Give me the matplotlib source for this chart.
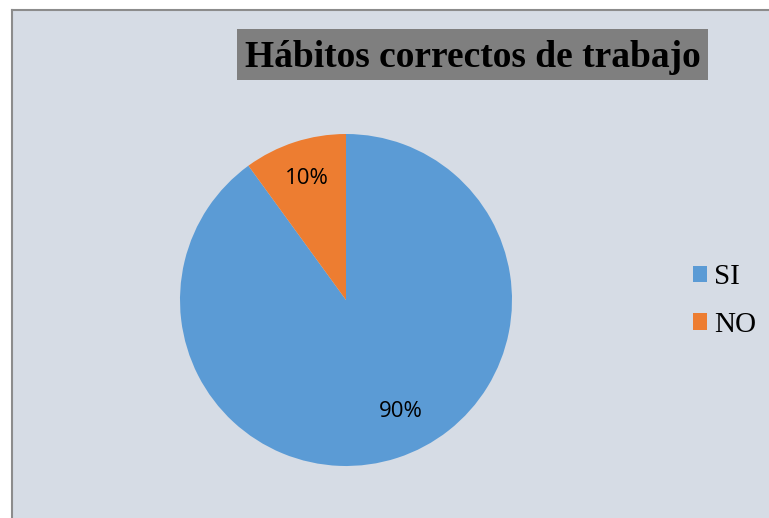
import matplotlib
matplotlib.use("Agg")
from matplotlib import pyplot as plt
from matplotlib.patches import Rectangle, Patch
import numpy as np

# Datos del gráfico
categorias = ["SI", "NO"]
porcentajes = [90, 10]
colores = ["#5B9BD5", "#ED7D31"]
titulo = "Hábitos correctos de trabajo"

W, H = 769, 518
fig = plt.figure(figsize=(W / 100, H / 100), dpi=100)
fig.patch.set_facecolor("white")

# Fondo del área del gráfico con borde gris arriba e izquierda
x0, y0 = 12 / W, 1 - 10 / H
fig.patches.append(Rectangle((x0, 0), 1 - x0, y0, transform=fig.transFigure,
                             facecolor="#D6DCE5", edgecolor="none", zorder=-2))
fig.lines.append(plt.Line2D([x0, x0], [0, y0], transform=fig.transFigure,
                            color="#8C8C8C", lw=1.5, zorder=-1))
fig.lines.append(plt.Line2D([x0, 1], [y0, y0], transform=fig.transFigure,
                            color="#8C8C8C", lw=1.5, zorder=-1))

# Título con caja gris
fig.patches.append(Rectangle((237 / W, 1 - 80 / H), (708 - 237) / W, 51 / H,
                             transform=fig.transFigure, facecolor="#7F7F7F",
                             edgecolor="none", zorder=-1))
fig.text(473 / W, 1 - 67 / H, titulo, ha="center", va="baseline",
         fontsize=27, fontweight="bold", family="Liberation Serif", color="black")

# Pastel
cx, cy, r = 346, 300, 166
ax = fig.add_axes([(cx - r) / W, (H - cy - r) / H, 2 * r / W, 2 * r / H])
ax.set_zorder(2)
wedges, texts, autotexts = ax.pie(porcentajes, colors=colores, startangle=90,
                                  counterclock=False, autopct="%1.0f%%",
                                  pctdistance=0.77,
                                  textprops={"fontsize": 16, "family": "Open Sans"})
# la etiqueta del 90% queda un poco más a la derecha, como en Excel
ang = np.deg2rad(-64)
autotexts[0].set_position((0.75 * np.cos(ang), 0.75 * np.sin(ang)))
ax.set_xlim(-1, 1)
ax.set_ylim(-1, 1)
ax.set_aspect("equal")
ax.axis("off")

# Leyenda
handles = [Patch(facecolor=c, edgecolor="none") for c in colores]
fig.legend(handles, categorias, loc="center left",
           bbox_to_anchor=(681 / W, 1 - 301 / H), frameon=False,
           prop={"family": "Liberation Serif", "size": 21},
           handlelength=0.48, handleheight=0.48, handletextpad=0.25,
           labelspacing=0.75, borderaxespad=0)

fig.savefig("out.png", dpi=100)
